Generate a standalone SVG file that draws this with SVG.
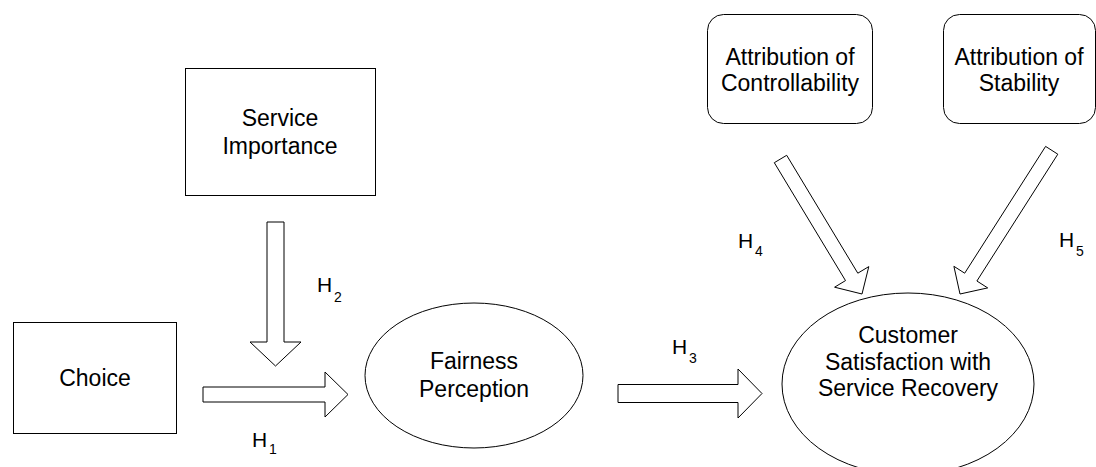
<svg xmlns="http://www.w3.org/2000/svg" width="1096" height="467" viewBox="0 0 1096 467">
<style>
.shape{fill:#fff;stroke:#000;stroke-width:1}
.arrow{fill:#fff;stroke:#000;stroke-width:1;stroke-linejoin:miter}
.lbl{font-family:"Liberation Sans",Arial,sans-serif;font-size:23px;fill:#000;text-anchor:middle}
.h{font-family:"Liberation Sans",Arial,sans-serif;font-size:21px;fill:#000}
.sub{font-family:"Liberation Sans",Arial,sans-serif;font-size:14px;fill:#000}
</style>
<rect width="1096" height="467" fill="#fff"/>
<g id="connectors">
<polygon class="arrow" points="203,387 325,387 325,372 348,394.5 325,417 325,402 203,402"/>
<polygon class="arrow" points="267,222 284,222 284,342 301,342 275.5,366 250,342 267,342"/>
<polygon class="arrow" points="618,384.5 738,384.5 738,369 762,393.5 738,418 738,402.5 618,402.5"/>
<polygon class="arrow" points="774.3,162.7 845.5,280.6 834.6,287.2 862,294 868.8,266.6 857.8,273.2 786.7,155.3"/>
<polygon class="arrow" points="1045.6,146.4 964.7,273.2 953.9,266.3 960,294 987.7,287.9 976.9,281 1057.8,154.2"/>
<text class="h" x="252" y="447">H</text><text class="sub" x="269" y="454">1</text>
<text class="h" x="317" y="292">H</text><text class="sub" x="334" y="302">2</text>
<text class="h" x="672" y="354">H</text><text class="sub" x="689" y="363">3</text>
<text class="h" x="738" y="248">H</text><text class="sub" x="755" y="256">4</text>
<text class="h" x="1059" y="247">H</text><text class="sub" x="1076" y="256">5</text>
</g>
<g id="choice">
<rect class="shape" x="13.5" y="322.5" width="163" height="111"/>
<text class="lbl" x="95" y="386">Choice</text>
</g>
<g id="service-importance">
<rect class="shape" x="185.5" y="68.5" width="190" height="127"/>
<text class="lbl" x="280" y="126">Service</text>
<text class="lbl" x="280" y="154">Importance</text>
</g>
<g id="fairness-perception">
<ellipse class="shape" cx="474" cy="375.5" rx="109" ry="72.5"/>
<text class="lbl" x="474" y="369">Fairness</text>
<text class="lbl" x="474" y="397">Perception</text>
</g>
<g id="customer-satisfaction">
<ellipse class="shape" cx="908" cy="384" rx="126" ry="91"/>
<text class="lbl" x="908" y="342.5">Customer</text>
<text class="lbl" x="908" y="369.5">Satisfaction with</text>
<text class="lbl" x="908" y="396">Service Recovery</text>
</g>
<g id="attribution-controllability">
<rect class="shape" x="707.5" y="14.5" width="165" height="109" rx="16" ry="16"/>
<text class="lbl" x="790" y="65">Attribution of</text>
<text class="lbl" x="790" y="91">Controllability</text>
</g>
<g id="attribution-stability">
<rect class="shape" x="943.5" y="14.5" width="152" height="109" rx="16" ry="16"/>
<text class="lbl" x="1019" y="65">Attribution of</text>
<text class="lbl" x="1019" y="91">Stability</text>
</g>
</svg>
